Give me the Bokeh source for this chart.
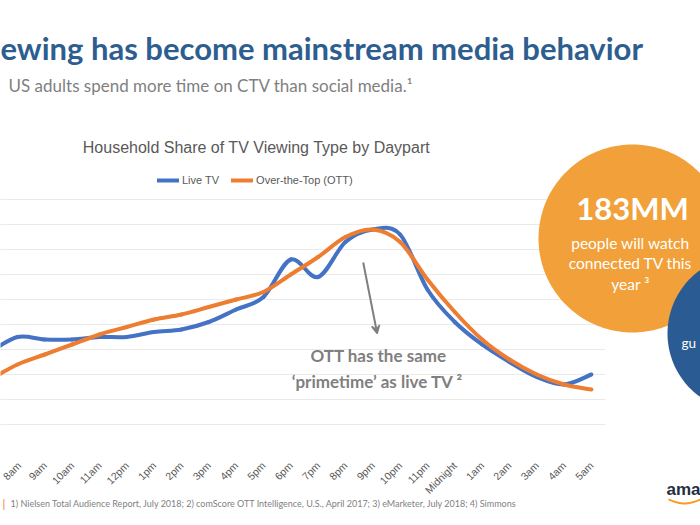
import numpy as np
from bokeh.plotting import figure
from bokeh.models import (Label, PolyAnnotation, Legend, LegendItem, FixedTicker,
                          Arrow, VeeHead, ColumnDataSource, Range1d, LinearAxis)
from bokeh.embed import file_html
from bokeh.resources import INLINE

# ---------------- data ----------------
# (7am sits just left of the visible slide edge; only its line segment shows)
dayparts = ["7am", "8am", "9am", "10am", "11am", "12pm", "1pm", "2pm", "3pm", "4pm",
            "5pm", "6pm", "7pm", "8pm", "9pm", "10pm", "11pm", "Midnight", "1am",
            "2am", "3am", "4am", "5am"]
live_tv = [2.9, 3.5, 3.4, 3.4, 3.5, 3.5, 3.7, 3.8, 4.1, 4.6, 5.1, 6.6, 5.9, 7.3, 7.8,
           7.6, 5.4, 4.1, 3.2, 2.5, 1.9, 1.6, 2.0]
ott = [1.8, 2.4, 2.8, 3.2, 3.6, 3.9, 4.2, 4.4, 4.7, 5.0, 5.3, 6.0, 6.7, 7.5, 7.8,
       7.3, 5.8, 4.5, 3.4, 2.6, 2.0, 1.6, 1.4]
y_ticks = [0, 1, 2, 3, 4, 5, 6, 7, 8, 9]

BLUE = "#4472C4"
ORANGE = "#ED7D31"
GRAY = "#595959"
LGRAY = "#7F7F7F"

W, H = 700, 525
# the slide is one full-canvas frame; the chart occupies canvas px 199..424 vertically
PX_PER_X, X8_PX = 27.33, 17.0        # category spacing and position of "8am" (index 1)
PX_PER_Y, Y0_PX = 25.0, 424.0        # one gridline step and baseline position

x_start = 1 - X8_PX / PX_PER_X
y_start = -(H - Y0_PX) / PX_PER_Y
p = figure(width=W, height=H, output_backend="svg", toolbar_location=None,
           x_range=Range1d(x_start, x_start + W / PX_PER_X),
           y_range=Range1d(y_start, y_start + H / PX_PER_Y),
           x_axis_location=None, y_axis_location=None,
           min_border=0)
p.outline_line_color = None
p.background_fill_color = "white"
p.border_fill_color = "white"
p.xgrid.visible = False
p.ygrid.visible = False

n = len(dayparts)
# horizontal gridlines of the chart area
p.segment(x0=[-1.0] * len(y_ticks), x1=[n - 0.5] * len(y_ticks), y0=y_ticks, y1=y_ticks,
          line_color="#EAEAEA", line_width=1)

# smoothed (Excel-style) line segments built from the data points
def smooth_source(vals):
    xs = list(range(len(vals)))
    m = len(vals)
    d = dict(x0=[], y0=[], x1=[], y1=[], cx0=[], cy0=[], cx1=[], cy1=[])
    for i in range(m - 1):
        im = max(i - 1, 0)
        ip = min(i + 2, m - 1)
        d["x0"].append(xs[i]); d["y0"].append(vals[i])
        d["x1"].append(xs[i + 1]); d["y1"].append(vals[i + 1])
        d["cx0"].append(xs[i] + (xs[i + 1] - xs[im]) / 6)
        d["cy0"].append(vals[i] + (vals[i + 1] - vals[im]) / 6)
        d["cx1"].append(xs[i + 1] - (xs[ip] - xs[i]) / 6)
        d["cy1"].append(vals[i + 1] - (vals[ip] - vals[i]) / 6)
    return ColumnDataSource(d)

r_live = p.bezier(x0="x0", y0="y0", x1="x1", y1="y1", cx0="cx0", cy0="cy0",
                  cx1="cx1", cy1="cy1", source=smooth_source(live_tv),
                  line_color=BLUE, line_width=4, line_cap="round")
r_ott = p.bezier(x0="x0", y0="y0", x1="x1", y1="y1", cx0="cx0", cy0="cy0",
                 cx1="cx1", cy1="cy1", source=smooth_source(ott),
                 line_color=ORANGE, line_width=4, line_cap="round")

# category axis placed at the chart baseline (labels for the visible dayparts)
xaxis = LinearAxis(fixed_location=0, ticker=FixedTicker(ticks=list(range(1, n))),
                   major_label_overrides={i: d for i, d in enumerate(dayparts)},
                   major_label_orientation=np.pi / 4,
                   axis_line_color=None, major_tick_line_color=None,
                   minor_tick_line_color=None,
                   major_label_text_font="Liberation Sans",
                   major_label_text_font_size="10.5px",
                   major_label_text_color=GRAY, major_label_standoff=33)
p.add_layout(xaxis, "below")

# helpers for slide decorations in canvas px (y from top)
def sy(Y):
    return H - Y

def add_text(text, X, Y, size, color, font="Lato", style="normal", align="left"):
    p.add_layout(Label(x=X, y=sy(Y), x_units="screen", y_units="screen", text=text,
                       text_font=font, text_font_size=f"{size}px",
                       text_font_style=style, text_color=color,
                       text_align=align, text_baseline="middle"))

def add_circle(cx, cy, r, color):
    t = np.linspace(0, 2 * np.pi, 181)
    p.add_layout(PolyAnnotation(xs=list(cx + r * np.cos(t)),
                                ys=list(sy(cy) + r * np.sin(t)),
                                xs_units="screen", ys_units="screen",
                                fill_color=color, fill_alpha=1,
                                line_color=None))

# legend above the chart
legend = Legend(items=[LegendItem(label="Live TV", renderers=[r_live]),
                       LegendItem(label="Over-the-Top (OTT)", renderers=[r_ott])],
                orientation="horizontal", location=(157, sy(180) - 6),
                label_text_font="Liberation Sans", label_text_font_size="11px",
                label_text_color=GRAY, glyph_width=22, glyph_height=12,
                label_standoff=3, spacing=12, padding=0, margin=0,
                border_line_color=None, background_fill_alpha=0,
                label_height=12)
p.add_layout(legend)

# slide texts
add_text("ewing has become mainstream media behavior", 0, 47, 31, "#2D5E8F", style="bold")
add_text("US adults spend more time on CTV than social media.\u00b9", 8, 85, 17, LGRAY)
add_text("Household Share of TV Viewing Type by Daypart", 256, 147, 16, GRAY,
         font="Liberation Sans", align="center")

# annotation arrow + text
p.add_layout(Arrow(end=VeeHead(size=8, line_color=LGRAY, fill_color=LGRAY, line_width=1.5),
                   x_start=13.65, y_start=6.48, x_end=14.16, y_end=3.64,
                   line_color=LGRAY, line_width=2))
add_text("OTT has the same", 378, 355, 17, LGRAY, style="bold", align="center")
add_text("\u2018primetime\u2019 as live TV \u00b2", 377, 381, 17, LGRAY, style="bold",
         align="center")

# circles
add_circle(632, 238, 94, "#F1A03A")
add_circle(745, 333, 78, "#2A5C93")
add_text("183MM", 632, 207, 31, "white", style="bold", align="center")
add_text("people will watch", 630, 242, 15.5, "white", align="center")
add_text("connected TV this", 630, 262, 15.5, "white", align="center")
add_text("year \u00b3", 630, 283, 15.5, "white", align="center")
add_text("gu", 681, 342, 13.5, "white")

# footnote & logo
add_text("|", 2, 503, 11, ORANGE)
add_text("1) Nielsen Total Audience Report, July 2018; 2) comScore OTT Intelligence, "
         "U.S., April 2017; 3) eMarketer, July 2018; 4) Simmons", 10, 503, 9, LGRAY)
add_text("ama", 666, 489, 17, "#232F3E", font="Liberation Sans", style="bold")
t = np.linspace(0, 1, 30)
smile_top = 498 + 4 * np.sin(np.pi * t)
p.add_layout(PolyAnnotation(xs=list(668 + 32 * t) + list(668 + 32 * t[::-1]),
                            ys=list(sy(smile_top)) + list(sy(smile_top[::-1] + 2)),
                            xs_units="screen", ys_units="screen",
                            fill_color="#F79C1C", fill_alpha=1, line_color=None))

open("out.html", "w").write(file_html(p, INLINE))
